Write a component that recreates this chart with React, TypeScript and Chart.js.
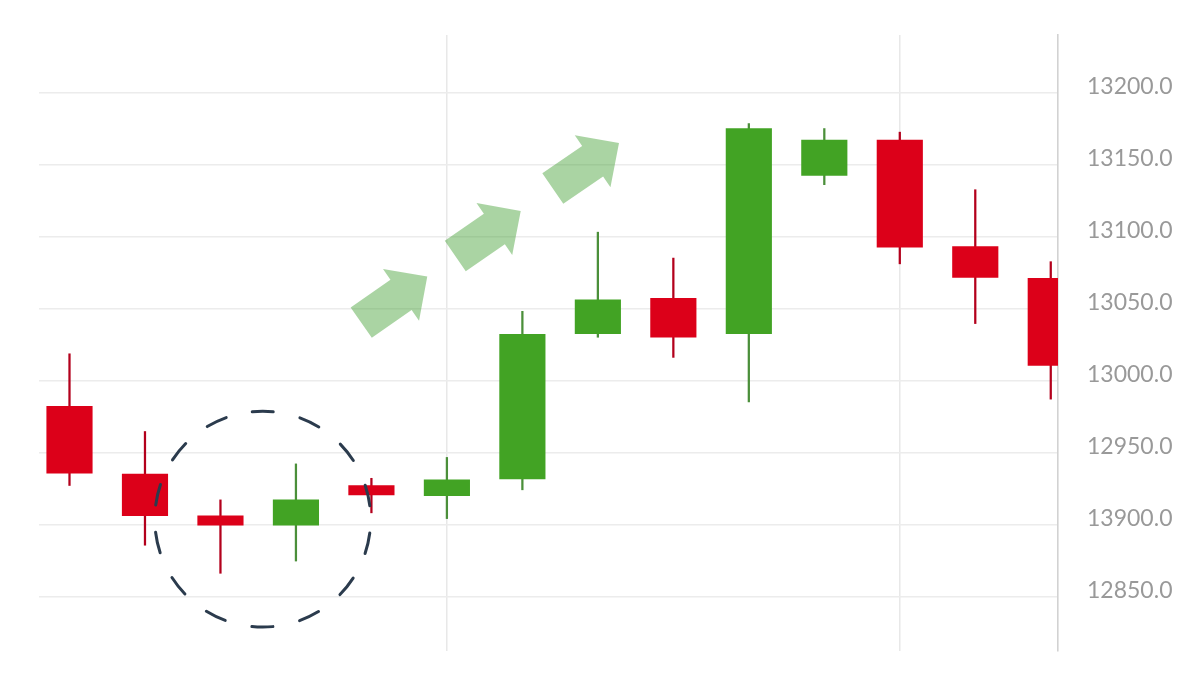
import React, { useEffect, useRef } from "react";
import { Chart, registerables } from "chart.js";

Chart.register(...registerables);

// ---- data ----
const candleIndex = [0, 1, 2, 3, 4, 5, 6, 7, 8, 9, 10, 11, 12, 13];
const openValues = [12982, 12935, 12906, 12899.5, 12927, 12920, 12931.5, 13032.5, 13057, 13032.5, 13142.5, 13167, 13093, 13071];
const highValues = [13018.5, 12964.5, 12917, 12942, 12932, 12946.5, 13048, 13103, 13085, 13178.5, 13175, 13172.5, 13132.5, 13082.5];
const lowValues = [12927, 12885.5, 12866, 12874.5, 12908, 12904, 12924, 13030, 13016, 12985, 13136, 13081, 13039.5, 12987];
const closeValues = [12935.5, 12906, 12899.5, 12917, 12920.5, 12931, 13032, 13056, 13030, 13175, 13167, 13092.5, 13071.5, 13010.5];

const yTickValues = [12850, 12900, 12950, 13000, 13050, 13100, 13150, 13200];
const yTickLabels = ["12850.0", "13900.0", "12950.0", "13000.0", "13050.0", "13100.0", "13150.0", "13200.0"];
const xGridIndex = [5, 11];

// annotation anchors (data space)
const arrowFromX = [3.865, 5.111, 6.403];
const arrowFromY = [13040.2, 13086.5, 13133.3];
const arrowToX = [4.74, 5.978, 7.28];
const arrowToY = [13072.2, 13117.8, 13164.9];
const circleCenterX = 2.56;
const circleCenterY = 12903.6;
const circleRadiusY = 75;

// ---- styles ----
const RED = "#dc0019";
const GREEN = "#42a324";
const RED_WICK = "#b3001c";
const GREEN_WICK = "#4b8f3a";

const annotationPlugin = {
  id: "annotations",
  afterDatasetsDraw(chart: any) {
    const { ctx } = chart;
    const xs = chart.scales.x;
    const ys = chart.scales.y;
    ctx.save();
    // arrows
    ctx.fillStyle = "rgba(67,160,50,0.45)";
    for (let i = 0; i < arrowFromX.length; i++) {
      const tx = xs.getPixelForValue(arrowFromX[i]);
      const ty = ys.getPixelForValue(arrowFromY[i]);
      const hx = xs.getPixelForValue(arrowToX[i]);
      const hy = ys.getPixelForValue(arrowToY[i]);
      const dx = hx - tx;
      const dy = hy - ty;
      const len = Math.hypot(dx, dy);
      const ux = dx / len;
      const uy = dy / len;
      const nx = -uy;
      const ny = ux;
      const headLen = 32;
      const shaftW = 37 / 2;
      const headW = 63 / 2;
      const bx = hx - ux * headLen;
      const by = hy - uy * headLen;
      ctx.beginPath();
      ctx.moveTo(tx + nx * shaftW, ty + ny * shaftW);
      ctx.lineTo(bx + nx * shaftW, by + ny * shaftW);
      ctx.lineTo(bx + nx * headW, by + ny * headW);
      ctx.lineTo(hx, hy);
      ctx.lineTo(bx - nx * headW, by - ny * headW);
      ctx.lineTo(bx - nx * shaftW, by - ny * shaftW);
      ctx.lineTo(tx - nx * shaftW, ty - ny * shaftW);
      ctx.closePath();
      ctx.fill();
    }
    // dashed circle
    const cx = xs.getPixelForValue(circleCenterX);
    const cy = ys.getPixelForValue(circleCenterY);
    const r = Math.abs(ys.getPixelForValue(circleCenterY - circleRadiusY) - cy);
    const circ = 2 * Math.PI * r;
    const period = circ / 14;
    const dash = 21;
    ctx.strokeStyle = "#2b3b4d";
    ctx.lineWidth = 3;
    ctx.lineCap = "round";
    ctx.setLineDash([dash, period - dash]);
    ctx.beginPath();
    const start = -Math.PI / 2 - dash / 2 / r;
    ctx.arc(cx, cy, r, start, start + 2 * Math.PI);
    ctx.stroke();
    ctx.restore();
  },
};

export default function App() {
  const ref = useRef<HTMLCanvasElement>(null);
  useEffect(() => {
    document.body.style.margin = "0";
    const canvas = ref.current!;
    const bodyColors = candleIndex.map((i) => (closeValues[i] >= openValues[i] ? GREEN : RED));
    const wickColors = candleIndex.map((i) => (closeValues[i] >= openValues[i] ? GREEN_WICK : RED_WICK));
    const chart = new Chart(canvas, {
      type: "bar",
      data: {
        datasets: [
          {
            label: "body",
            data: candleIndex.map((i) => ({ x: i, y: [openValues[i], closeValues[i]] })) as any,
            backgroundColor: bodyColors,
            borderWidth: 0,
            borderSkipped: false,
            barThickness: 45.5,
            grouped: false,
          } as any,
          {
            label: "wick",
            data: candleIndex.map((i) => ({ x: i, y: [lowValues[i], highValues[i]] })) as any,
            backgroundColor: wickColors,
            borderWidth: 0,
            borderSkipped: false,
            barThickness: 1.6,
            grouped: false,
          } as any,
        ],
      },
      options: {
        animation: false,
        responsive: true,
        maintainAspectRatio: false,
        devicePixelRatio: 1,
        layout: { padding: { left: 39, top: 35, bottom: 35, right: 0 } },
        plugins: { legend: { display: false }, tooltip: { enabled: false } },
        scales: {
          x: {
            type: "linear",
            min: -0.404,
            max: 13.096,
            offset: false,
            afterBuildTicks: (s: any) => {
              s.ticks = xGridIndex.map((v) => ({ value: v }));
            },
            afterFit: (s: any) => {
              s.height = 0;
              s.paddingLeft = 0;
              s.paddingRight = 0;
              s.paddingTop = 0;
              s.paddingBottom = 0;
            },
            ticks: { display: false },
            grid: { offset: false, drawTicks: false, color: "#e8e8e8", lineWidth: 1.5 },
            border: { display: false },
          },
          y: {
            type: "linear",
            position: "right",
            min: 12812,
            max: 13240,
            afterBuildTicks: (s: any) => {
              s.ticks = yTickValues.map((v) => ({ value: v }));
            },
            afterFit: (s: any) => {
              s.width = 142;
              s.paddingTop = 0;
              s.paddingBottom = 0;
              s.paddingLeft = 0;
              s.paddingRight = 0;
            },
            ticks: {
              padding: 29,
              labelOffset: -6,
              color: "#999999",
              font: { family: "Lato", size: 23, weight: "normal" },
              callback: (v: any) => {
                const k = yTickValues.indexOf(Number(v));
                return k >= 0 ? yTickLabels[k] : "";
              },
            },
            grid: { drawTicks: false, color: "#ececec", lineWidth: 1.6 },
            border: { display: true, color: "#d2d2d2", width: 1.6 },
          },
        },
      } as any,
      plugins: [annotationPlugin],
    });
    return () => chart.destroy();
  }, []);
  return (
    <div style={{ position: "fixed", left: 0, top: 0, width: 1200, height: 686, background: "#fff" }}>
      <canvas ref={ref} />
    </div>
  );
}
